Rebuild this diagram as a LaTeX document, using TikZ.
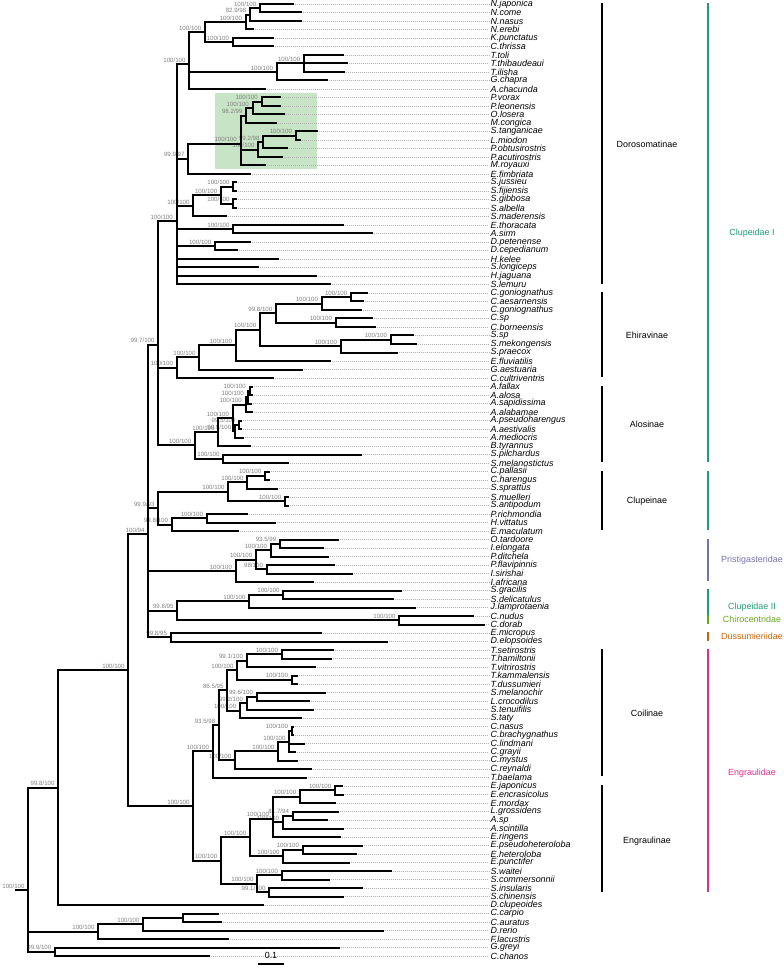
\documentclass[tikz,border=0pt]{standalone}
\usepackage{fontspec}
\setmainfont{Liberation Sans}
\usetikzlibrary{calc}
\definecolor{boxgreen}{RGB}{200,228,198}
\definecolor{dkgreen}{RGB}{27,158,119}
\definecolor{ltgreen}{RGB}{102,166,30}
\definecolor{dpurple}{RGB}{117,112,179}
\definecolor{dorange}{RGB}{217,95,2}
\definecolor{dpink}{RGB}{231,41,138}
\definecolor{bsgray}{RGB}{128,128,128}
\newcommand\tip[3]{%
  \coordinate (t#1) at (#2,{4+8.5*(#1-1)});
  \node[tiplab] (L#1) at (489,{4+8.5*(#1-1)}) {#3};
  \draw[dotl] (t#1) -- (L#1);}
\newcommand\nd[4]{\coordinate (#1) at (#2,#3);\foreach \ch in {#4}{\draw[br] (\ch) -| (#1);}}
\newcommand\bs[2]{\node[bsl] (b#1) at ($(#1)+(-3.5,-1.5)$) {#2};}
\begin{document}
\begin{tikzpicture}[x=0.75pt,y=-0.75pt,
  br/.style={line width=1.5pt,line cap=rect},
  dotl/.style={line width=0.35pt,gray!60,dash pattern=on 0.6pt off 0.9pt},
  tiplab/.style={anchor=west,inner sep=1pt,font=\fontsize{6.7}{7}\selectfont\itshape},
  bsl/.style={anchor=south east,inner sep=0pt,text=bsgray,font=\fontsize{4.6}{5}\selectfont},
  clab/.style={inner sep=0pt,font=\fontsize{6.7}{7}\selectfont},
  cbar/.style={line width=1.5pt}]
\useasboundingbox (0,0) rectangle (783,969);
\fill[boxgreen] (215,92.7) rectangle (316.7,169);
% tips
\tip{1}{292.7}{N.japonica}
\tip{2}{300.7}{N.come}
\tip{3}{300.7}{N.nasus}
\tip{4}{253}{N.erebi}
\tip{5}{272.7}{K.punctatus}
\tip{6}{272.7}{C.thrissa}
\tip{7}{342.7}{T.toli}
\tip{8}{347.3}{T.thibaudeaui}
\tip{9}{344}{T.ilisha}
\tip{10}{326.7}{G.chapra}
\tip{11}{265}{A.chacunda}
\tip{12}{280}{P.vorax}
\tip{13}{280}{P.leonensis}
\tip{14}{284.3}{O.losera}
\tip{15}{276}{M.congica}
\tip{16}{316.7}{S.tanganicae}
\tip{17}{300}{L.miodon}
\tip{18}{286.7}{P.obtusirostris}
\tip{19}{281.7}{P.acutirostris}
\tip{20}{265}{M.royauxi}
\tip{21}{250}{E.fimbriata}
\tip{22}{236}{S.jussieu}
\tip{23}{236}{S.fijiensis}
\tip{24}{236}{S.gibbosa}
\tip{25}{236}{S.albella}
\tip{26}{226}{S.maderensis}
\tip{27}{343.3}{E.thoracata}
\tip{28}{371.7}{A.sirm}
\tip{29}{250}{D.petenense}
\tip{30}{237.3}{D.cepedianum}
\tip{31}{277.7}{H.kelee}
\tip{32}{258.3}{S.longiceps}
\tip{33}{316}{H.jaguana}
\tip{34}{330}{S.lemuru}
\tip{35}{367.3}{C.goniognathus}
\tip{36}{363.3}{C.aesarnensis}
\tip{37}{361}{C.goniognathus}
\tip{38}{371.7}{C.sp}
\tip{39}{375}{C.borneensis}
\tip{40}{412.7}{S.sp}
\tip{41}{416}{S.mekongensis}
\tip{42}{396.7}{S.praecox}
\tip{43}{330}{E.fluviatilis}
\tip{44}{301.7}{G.aestuaria}
\tip{45}{273.3}{C.cultriventris}
\tip{46}{251.5}{A.fallax}
\tip{47}{251.5}{A.alosa}
\tip{48}{250.5}{A.sapidissima}
\tip{49}{252}{A.alabamae}
\tip{50}{240.7}{A.pseudoharengus}
\tip{51}{240.7}{A.aestivalis}
\tip{52}{243.3}{A.mediocris}
\tip{53}{250}{B.tyrannus}
\tip{54}{360.7}{S.pilchardus}
\tip{55}{288.3}{S.melanostictus}
\tip{56}{269.3}{C.pallasii}
\tip{57}{269.3}{C.harengus}
\tip{58}{276.7}{S.sprattus}
\tip{59}{288.3}{S.muelleri}
\tip{60}{288.3}{S.antipodum}
\tip{61}{246.7}{P.richmondia}
\tip{62}{275}{H.vittatus}
\tip{63}{237.7}{E.maculatum}
\tip{64}{338.3}{O.tardoore}
\tip{65}{323.3}{I.elongata}
\tip{66}{328.3}{P.ditchela}
\tip{67}{334}{P.flavipinnis}
\tip{68}{352.3}{I.sirishai}
\tip{69}{312.7}{I.africana}
\tip{70}{400.7}{S.gracilis}
\tip{71}{392.7}{S.delicatulus}
\tip{72}{415}{J.lamprotaenia}
\tip{73}{472.7}{C.nudus}
\tip{74}{484}{C.dorab}
\tip{75}{320.7}{E.micropus}
\tip{76}{387.3}{D.elopsoides}
\tip{77}{332.7}{T.setirostris}
\tip{78}{330.7}{T.hamiltonii}
\tip{79}{315}{T.vitrirostris}
\tip{80}{296.7}{T.kammalensis}
\tip{81}{296.7}{T.dussumieri}
\tip{82}{325}{S.melanochir}
\tip{83}{309.3}{L.crocodilus}
\tip{84}{313.3}{S.tenuifilis}
\tip{85}{300.7}{S.taty}
\tip{86}{293.3}{C.nasus}
\tip{87}{293.3}{C.brachygnathus}
\tip{88}{304}{C.lindmani}
\tip{89}{295}{C.grayii}
\tip{90}{296.7}{C.mystus}
\tip{91}{310.7}{C.reynaldi}
\tip{92}{306}{T.baelama}
\tip{93}{341.7}{E.japonicus}
\tip{94}{343.3}{E.encrasicolus}
\tip{95}{335}{E.mordax}
\tip{96}{338.3}{L.grossidens}
\tip{97}{326.7}{A.sp}
\tip{98}{342.7}{A.scintilla}
\tip{99}{340}{E.ringens}
\tip{100}{362.3}{E.pseudoheteroloba}
\tip{101}{356}{E.heteroloba}
\tip{102}{349}{E.punctifer}
\tip{103}{390.7}{S.waitei}
\tip{104}{329.3}{S.commersonnii}
\tip{105}{362.3}{S.insularis}
\tip{106}{342.7}{S.chinensis}
\tip{107}{262.5}{D.clupeoides}
\tip{108}{217.7}{C.carpio}
\tip{109}{220.7}{C.auratus}
\tip{110}{383.3}{D.rerio}
\tip{111}{228.3}{F.lacustris}
\tip{112}{339.3}{G.greyi}
\tip{113}{209}{C.chanos}
% Dorosomatinae
\nd{nJC}{260}{8.25}{t1,t2} \bs{nJC}{100/100}
\nd{nJCN}{250}{14.63}{nJC,t3} \bs{nJCN}{82.9/98}
\nd{nNEM}{245.7}{22.06}{nJCN,t4} \bs{nNEM}{100/100}
\nd{nKC}{232.7}{42.25}{t5,t6} \bs{nKC}{100/100}
\nd{nN}{205}{32.16}{nNEM,nKC} \bs{nN}{100/100}
\nd{nTEN}{304}{63.5}{t7,t8,t9} \bs{nTEN}{100/100}
\nd{nTG}{276.7}{72}{nTEN,t10} \bs{nTG}{100/100}
\nd{nT}{189.3}{64.39}{nN,nTG,t11} \bs{nT}{100/100}
\nd{nPP}{261.5}{101.75}{t12,t13} \bs{nPP}{100/100}
\nd{nPPO}{252.5}{108.13}{nPP,t14} \bs{nPPO}{100/100}
\nd{nUP}{246.3}{115.56}{nPPO,t15} \bs{nUP}{98.2/99}
\nd{nSL}{295.7}{135.75}{t16,t17} \bs{nSL}{100/100}
\nd{nSLP}{263.3}{142.13}{nSL,t18} \bs{nSLP}{99.2/98}
\nd{nLO}{258.3}{149.56}{nSLP,t19} \bs{nLO}{100/100}
\nd{nGR}{240.5}{143.54}{nUP,nLO,t20} \bs{nGR}{100/100}
\nd{nGF}{188.3}{158.77}{nGR,t21} \bs{nGF}{99.9/97}
\nd{nSA}{233.3}{186.75}{t22,t23} \bs{nSA}{100/100}
\nd{nSB}{233.3}{203.75}{t24,t25} \bs{nSB}{100/100}
\nd{nSAB}{221}{195.25}{nSA,nSB} \bs{nSAB}{100/100}
\nd{nSAR}{193.3}{205.88}{nSAB,t26} \bs{nSAR}{100/100}
\nd{nEA}{233.3}{229.25}{t27,t28} \bs{nEA}{100/100}
\nd{nDD}{215}{246.25}{t29,t30} \bs{nDD}{100/100}
\nd{nDOR}{176.5}{221.28}{nT,nGF,nSAR,nEA,nDD,t31,t32,t33,t34} \bs{nDOR}{100/100}
% Ehiravinae
\nd{nEa}{351}{297.25}{t35,t36} \bs{nEa}{100/100}
\nd{nEb}{321.7}{303.63}{nEa,t37} \bs{nEb}{100/100}
\nd{nEc}{335.7}{322.75}{t38,t39} \bs{nEc}{100/100}
\nd{nEd}{276}{313.19}{nEb,nEc} \bs{nEd}{99.8/100}
\nd{nEe}{390.7}{339.75}{t40,t41} \bs{nEe}{100/100}
\nd{nEf}{340.7}{346.13}{nEe,t42} \bs{nEf}{100/100}
\nd{nEg}{260}{329.66}{nEd,nEf} \bs{nEg}{100/100}
\nd{nEh}{235.7}{345.33}{nEg,t43} \bs{nEh}{100/100}
\nd{nEi}{199.3}{357.41}{nEh,t44} \bs{nEi}{100/100}
\nd{nEHI}{176.7}{367.71}{nEi,t45} \bs{nEHI}{100/100}
% Alosinae
\nd{nAa}{249.5}{390.75}{t46,t47} \bs{nAa}{100/100}
\nd{nAb}{247.5}{397.13}{nAa,t48} \bs{nAb}{100/100}
\nd{nAc}{245.5}{404.56}{nAb,t49} \bs{nAc}{100/100}
\nd{nAd}{239.3}{424.75}{t50,t51} \bs{nAd}{99.5/100}
\nd{nAe}{235}{431.13}{nAd,t52} \bs{nAe}{99.9/100}
\nd{nAf}{232.7}{417.84}{nAc,nAe} \bs{nAf}{100/100}
\nd{nAg}{218.3}{431.92}{nAf,t53} \bs{nAg}{100/100}
\nd{nAh}{223.3}{458.75}{t54,t55} \bs{nAh}{100/100}
\nd{nALO}{195}{445.33}{nAg,nAh} \bs{nALO}{100/100}
\nd{nKA}{158.3}{344.77}{nDOR,nEHI,nALO} \bs{nKA}{99.7/100}
% Clupeinae
\nd{nCa}{265}{475.75}{t56,t57} \bs{nCa}{100/100}
\nd{nCb}{247.3}{482.13}{nCa,t58} \bs{nCb}{100/100}
\nd{nCc}{285}{501.25}{t59,t60} \bs{nCc}{100/100}
\nd{nCd}{228.3}{491.69}{nCb,nCc} \bs{nCd}{100/100}
\nd{nCe}{206.7}{518.25}{t61,t62} \bs{nCe}{100/100}
\nd{nCf}{171.7}{524.63}{nCe,t63} \bs{nCf}{99.8/100}
\nd{nCL}{158.3}{508.16}{nCd,nCf} \bs{nCL}{99.9/93}
% Pristigasteridae
\nd{nPa}{280}{543.75}{t64,t65} \bs{nPa}{93.5/99}
\nd{nPb}{270.7}{550.13}{nPa,t66} \bs{nPb}{100/100}
\nd{nPc}{266.7}{569.25}{t67,t68} \bs{nPc}{98/100}
\nd{nPd}{256}{559.69}{nPb,nPc} \bs{nPd}{100/100}
\nd{nPRI}{235.7}{570.84}{nPd,t69} \bs{nPRI}{100/100}
% Clupeidae II + Chirocentridae
\nd{nQa}{283.3}{594.75}{t70,t71} \bs{nQa}{100/100}
\nd{nQb}{249.3}{601.13}{nQa,t72} \bs{nQb}{100/100}
\nd{nQc}{399.3}{620.25}{t73,t74} \bs{nQc}{100/100}
\nd{nQd}{177.3}{610.69}{nQb,nQc} \bs{nQd}{99.8/95}
\nd{nDUS}{170.7}{637.25}{t75,t76} \bs{nDUS}{99.8/95}
\nd{nK}{148.3}{534.34}{nKA,nCL,nPRI,nQd,nDUS} \bs{nK}{100/94}
% Coilinae
\nd{nKa}{281.7}{654.25}{t77,t78} \bs{nKa}{100/100}
\nd{nKb}{246.7}{660.63}{nKa,t79} \bs{nKb}{99.1/100}
\nd{nKc}{291.7}{679.75}{t80,t81} \bs{nKc}{100/100}
\nd{nKd}{237.3}{670.19}{nKb,nKc} \bs{nKd}{100/100}
\nd{nKe}{256.7}{696.75}{t82,t83} \bs{nKe}{99.6/100}
\nd{nKf}{246.7}{703.13}{nKe,t84} \bs{nKf}{99.2/100}
\nd{nKg}{240}{710.56}{nKf,t85} \bs{nKg}{100/100}
\nd{nKh}{227.3}{690.38}{nKd,nKg} \bs{nKh}{86.5/95}
\nd{nKi}{291.7}{730.75}{t86,t87} \bs{nKi}{100/100}
\nd{nKj}{289.3}{742.08}{nKi,t88,t89} \bs{nKj}{100/100}
\nd{nKk}{278.3}{751.29}{nKj,t90} \bs{nKk}{100/100}
\nd{nKl}{235}{760.15}{nKk,t91} \bs{nKl}{100/100}
\nd{nKm}{219}{725.26}{nKh,nKl} \bs{nKm}{93.5/98}
\nd{nCOI}{212.7}{751.38}{nKm,t92} \bs{nCOI}{100/100}
% Engraulinae
\nd{nGa}{335}{790.25}{t93,t94} \bs{nGa}{100/100}
\nd{nGb}{300}{796.58}{nGa,t95} \bs{nGb}{100/100}
\nd{nGc}{292.7}{815.75}{t96,t97} \bs{nGc}{81.7/94}
\nd{nGd}{282.7}{822.13}{nGc,t98} \bs{nGd}{100/100}
\nd{nGe}{272.7}{818.57}{nGb,nGd,t99} \bs{nGe}{100/100}
\nd{nGf}{302.7}{849.75}{t100,t101} \bs{nGf}{100/100}
\nd{nGg}{283.3}{856.13}{nGf,t102} \bs{nGg}{100/100}
\nd{nGh}{250}{837.35}{nGe,nGg} \bs{nGh}{100/100}
\nd{nGi}{281.7}{875.25}{t103,t104} \bs{nGi}{100/100}
\nd{nGj}{269.3}{892.25}{t105,t106} \bs{nGj}{99.1/100}
\nd{nGk}{257.3}{883.75}{nGi,nGj} \bs{nGk}{100/100}
\nd{nENG}{221}{860.55}{nGh,nGk} \bs{nENG}{100/100}
\nd{nE}{193.3}{805.97}{nCOI,nENG} \bs{nE}{100/100}
\nd{nC}{128.3}{670.15}{nK,nE} \bs{nC}{100/100}
\nd{nI}{58.3}{787.58}{nC,t107} \bs{nI}{99.8/100}
% outgroups
\nd{nOa}{182.7}{917.75}{t108,t109}
\nd{nOb}{143.3}{924.13}{nOa,t110} \bs{nOb}{100/100}
\nd{nOc}{98.3}{931.56}{nOb,t111} \bs{nOc}{100/100}
\nd{nOd}{55}{951.75}{t112,t113} \bs{nOd}{99.9/100}
\nd{nR}{28.3}{890.3}{nI,nOc,nOd} \bs{nR}{100/100}
\coordinate (rs) at (16,890.3);
\draw[br] (rs) -- (nR);
% subfamily bars
\draw[cbar] (602,3) -- (602,284);
\node[clab] (lDor) at (647,144) {Dorosomatinae};
\draw[cbar] (602,292) -- (602,377);
\node[clab] (lEhi) at (647,335) {Ehiravinae};
\draw[cbar] (602,386) -- (602,462);
\node[clab] (lAlo) at (647,424) {Alosinae};
\draw[cbar] (602,471) -- (602,530);
\node[clab] (lClu) at (647,501) {Clupeinae};
\draw[cbar] (602,649) -- (602,776);
\node[clab] (lCoi) at (647,713) {Coilinae};
\draw[cbar] (602,785) -- (602,892);
\node[clab] (lEng) at (647,841) {Engraulinae};
% family bars
\draw[cbar,dkgreen] (708,3) -- (708,462);
\draw[cbar,dkgreen] (708,471) -- (708,530);
\node[clab,text=dkgreen] (fC1) at (752,233) {Clupeidae I};
\draw[cbar,dpurple] (708,539) -- (708,581);
\node[clab,text=dpurple] (fPr) at (752,560) {Pristigasteridae};
\draw[cbar,dkgreen] (708,589) -- (708,615);
\draw[cbar,ltgreen] (708,615) -- (708,624);
\node[clab,text=dkgreen] (fC2) at (752,607) {Clupeidae II};
\node[clab,text=ltgreen] (fCh) at (752,619) {Chirocentridae};
\draw[cbar,dorange] (708,632) -- (708,641);
\node[clab,text=dorange] (fDu) at (752,636) {Dussumieriidae};
\draw[cbar,dpink] (708,649) -- (708,892);
\node[clab,text=dpink] (fEn) at (752,773) {Engraulidae};
% scale bar
\draw[line width=1.2pt] (258,964) -- (284,964);
\node[clab] (sb) at (271,955) {0.1};
\end{tikzpicture}
\end{document}
